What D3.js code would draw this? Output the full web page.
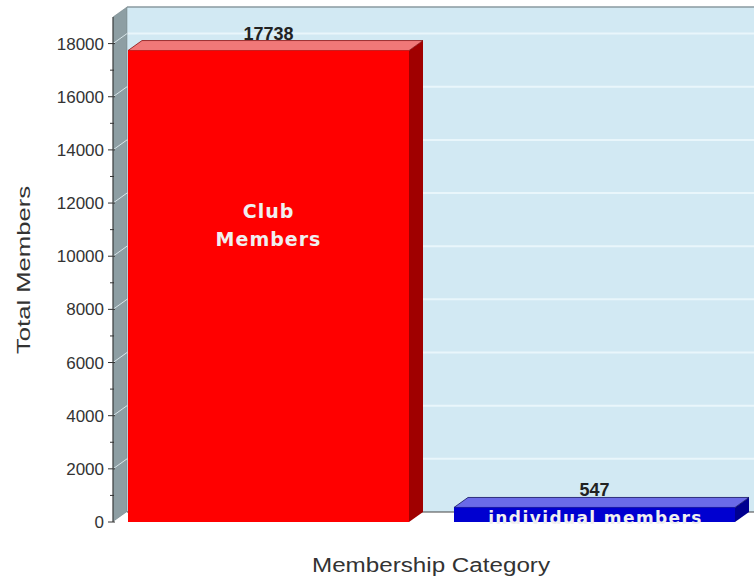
<!DOCTYPE html>
<html><head><meta charset="utf-8">
<script src="https://cdn.jsdelivr.net/npm/d3@7"></script>
<style>body{margin:0;background:#fff}</style></head>
<body><svg id="c" width="754" height="584"></svg>
<script>
const categories = ["Club Members", "individual members"];
const values = [17738, 547];
const labelLines = [["Club", "Members"], ["individual members"]];
const tickValues = [0, 2000, 4000, 6000, 8000, 10000, 12000, 14000, 16000, 18000];
const minorTicks = [1000, 3000, 5000, 7000, 9000, 11000, 13000, 15000, 17000];

const svg = d3.select("#c");
const dx = 14, dy = -10;
const axisX = 113;
const y = d3.scaleLinear().domain([0, 19000]).range([522, 17]);
const x = d3.scaleBand().domain(categories).range([128, 735]).paddingInner(0.138).paddingOuter(0);

const g = svg.append("g");
// back wall
g.append("rect").attr("x", axisX + dx).attr("y", y(19000) + dy).attr("width", 754 - axisX - dx).attr("height", y(0) - y(19000))
  .attr("fill", "#d2e9f3");
g.append("line").attr("x1", axisX + dx).attr("x2", 754).attr("y1", y(19000) + dy).attr("y2", y(19000) + dy)
  .attr("stroke", "#8a9aa0").attr("stroke-width", 1.5);
g.selectAll(".grid").data(tickValues.slice(1)).join("line")
  .attr("x1", axisX + dx).attr("x2", 754).attr("y1", d => y(d) + dy).attr("y2", d => y(d) + dy)
  .attr("stroke", "#e9f6fb").attr("stroke-width", 2);
// left wall
g.append("polygon").attr("points", [[axisX, y(0)], [axisX, y(19000)], [axisX + dx, y(19000) + dy], [axisX + dx, y(0) + dy]].join(" "))
  .attr("fill", "#8d9ea3").attr("stroke", "#6d7c80").attr("stroke-width", 0.5);
g.selectAll(".lgrid").data(tickValues.slice(1)).join("line")
  .attr("x1", axisX).attr("x2", axisX + dx).attr("y1", d => y(d)).attr("y2", d => y(d) + dy)
  .attr("stroke", "#d8e6ea").attr("stroke-width", 1);
// floor
g.append("polygon").attr("points", [[axisX, y(0)], [754, y(0)], [754, y(0) + dy], [axisX + dx, y(0) + dy]].join(" "))
  .attr("fill", "#ffffff");
g.append("line").attr("x1", axisX + dx).attr("x2", 754).attr("y1", y(0) + dy).attr("y2", y(0) + dy)
  .attr("stroke", "#444").attr("stroke-width", 1.2);

// axis
g.append("line").attr("x1", axisX).attr("x2", axisX).attr("y1", y(0)).attr("y2", y(19000)).attr("stroke", "#333").attr("stroke-width", 1);
g.selectAll(".mt").data(tickValues).join("line")
  .attr("x1", axisX - 5).attr("x2", axisX + 2).attr("y1", d => y(d)).attr("y2", d => y(d)).attr("stroke", "#333");
g.selectAll(".mnt").data(minorTicks).join("line")
  .attr("x1", axisX - 3).attr("x2", axisX + 1).attr("y1", d => y(d)).attr("y2", d => y(d)).attr("stroke", "#333");
g.selectAll(".tl").data(tickValues).join("text")
  .attr("x", axisX - 9).attr("y", d => y(d) + 6).attr("text-anchor", "end")
  .attr("font-family", "Liberation Sans, Arial, sans-serif").attr("font-size", 17).attr("fill", "#333")
  .text(d => d);

// bars
const colors = [
  {front: "#ff0000", top: "#f07878", side: "#a00000", edge: "#8a1010"},
  {front: "#0000d0", top: "#6a6ae8", side: "#000090", edge: "#101060"}
];
categories.forEach((c, i) => {
  const x0 = x(c), w = x.bandwidth(), yt = y(values[i]), yb = y(0);
  const col = colors[i];
  g.append("polygon").attr("points", [[x0 + w, yb], [x0 + w, yt], [x0 + w + dx, yt + dy], [x0 + w + dx, yb + dy]].join(" "))
    .attr("fill", col.side);
  g.append("polygon").attr("points", [[x0, yt], [x0 + w, yt], [x0 + w + dx, yt + dy], [x0 + dx, yt + dy]].join(" "))
    .attr("fill", col.top).attr("stroke", col.edge).attr("stroke-width", 0.8);
  g.append("rect").attr("x", x0).attr("y", yt).attr("width", w).attr("height", yb - yt).attr("fill", col.front);
  g.append("text").attr("x", x0 + w / 2).attr("y", yt + dy - 1).attr("text-anchor", "middle")
    .attr("font-family", "Liberation Sans, Arial, sans-serif").attr("font-weight", "bold").attr("font-size", 18)
    .attr("fill", "#222").text(values[i]);
});
// in-bar labels
labelLines[0].forEach((t, k) => {
  g.append("text").attr("x", x(categories[0]) + x.bandwidth() / 2).attr("y", 218 + k * 28).attr("text-anchor", "middle")
    .attr("font-family", "DejaVu Sans, Verdana, sans-serif").attr("font-weight", "bold").attr("font-size", 19)
    .attr("letter-spacing", 1).attr("fill", "#f0f0f0").text(t);
});
g.append("text").attr("x", x(categories[1]) + x.bandwidth() / 2 + 1).attr("y", 524).attr("text-anchor", "middle")
  .attr("font-family", "DejaVu Sans, Verdana, sans-serif").attr("font-weight", "bold").attr("font-size", 17)
  .attr("letter-spacing", 1.4).attr("fill", "#f0f0f0").text(labelLines[1][0]);

// axis titles
svg.append("text").attr("transform", "translate(30,270) rotate(-90)").attr("text-anchor", "middle")
  .attr("font-family", "Liberation Sans, Arial, sans-serif").attr("font-size", 19).attr("fill", "#333")
  .attr("textLength", 168).attr("lengthAdjust", "spacingAndGlyphs").text("Total Members");
svg.append("text").attr("x", 431).attr("y", 572).attr("text-anchor", "middle")
  .attr("font-family", "Liberation Sans, Arial, sans-serif").attr("font-size", 20).attr("fill", "#333")
  .attr("textLength", 238).attr("lengthAdjust", "spacingAndGlyphs").text("Membership Category");
</script></body></html>
